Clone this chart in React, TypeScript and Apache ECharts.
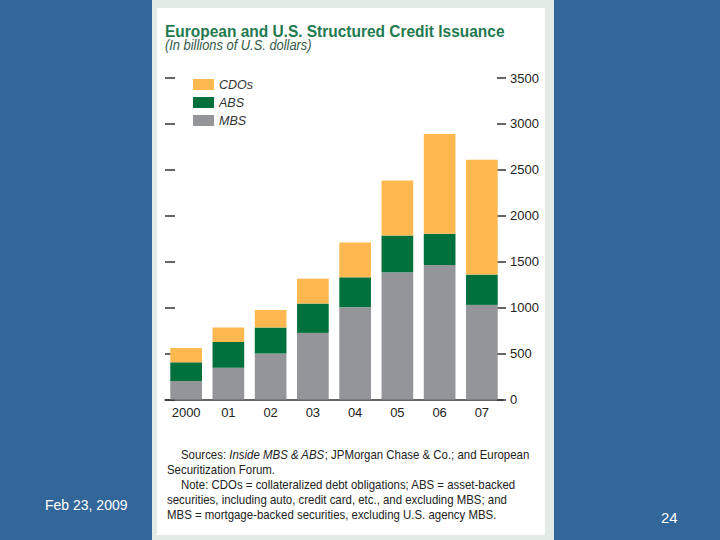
import React, { useEffect, useRef } from "react";
import * as echarts from "echarts";

const years = ["2000", "01", "02", "03", "04", "05", "06", "07"];
const mbs = [200, 345, 500, 725, 1005, 1385, 1465, 1030];
const abs = [205, 280, 285, 320, 325, 400, 340, 330];
const cdos = [155, 160, 190, 270, 380, 600, 1085, 1250];
const legendNames = ["CDOs", "ABS", "MBS"];

const titleText = "European and U.S. Structured Credit Issuance";
const subtitleText = "(In billions of U.S. dollars)";
const noteLines = [
  "{n|Sources: }{i|Inside MBS & ABS}{n|; JPMorgan Chase & Co.; and European}",
  "{n|Securitization Forum.}",
  "{n|Note: CDOs = collateralized debt obligations; ABS = asset-backed}",
  "{n|securities, including auto, credit card, etc., and excluding MBS; and}",
  "{n|MBS = mortgage-backed securities, excluding U.S. agency MBS.}",
];
const footerDate = "Feb 23, 2009";
const pageNo = "24";

const FONT = "'Liberation Sans', Arial, Helvetica, sans-serif";
const COLORS = { CDOs: "#fdb94f", ABS: "#00703c", MBS: "#939598" };

export default function App() {
  const ref = useRef<HTMLDivElement>(null);
  useEffect(() => {
    document.body.style.margin = "0";
    const chart = echarts.init(ref.current!, null, { renderer: "svg" });
    const noteIndent = [181, 167, 181, 167, 167];
    const noteY = [455, 470, 485, 500, 515];
    chart.setOption({
      animation: false,
      backgroundColor: "#336699",
      graphic: [
        { type: "rect", z: -10, shape: { x: 152, y: 0, width: 402, height: 540 }, style: { fill: "#e3ebe6" }, silent: true },
        { type: "rect", z: -9, shape: { x: 157, y: 8, width: 388, height: 527 }, style: { fill: "#ffffff" }, silent: true },
        {
          type: "text", x: 165, y: 31, scaleX: 0.91,
          style: { text: titleText, font: `bold 17px ${FONT}`, fill: "#1f7a4f", align: "left", verticalAlign: "middle" },
        },
        {
          type: "text", x: 165, y: 45, scaleX: 0.92,
          style: { text: subtitleText, font: `italic 14px ${FONT}`, fill: "#35594a", align: "left", verticalAlign: "middle" },
        },
        ...noteLines.map((t, i) => ({
          type: "text", x: noteIndent[i], y: noteY[i], scaleX: 0.88,
          style: {
            text: t, align: "left", verticalAlign: "middle",
            rich: {
              n: { fontSize: 13, fontFamily: FONT, fill: "#222" },
              i: { fontSize: 13, fontFamily: FONT, fontStyle: "italic", fill: "#222" },
            },
          },
        })),
        {
          type: "text", x: 45, y: 505,
          style: { text: footerDate, font: `14px ${FONT}`, fill: "#ffffff", align: "left", verticalAlign: "middle" },
        },
        {
          type: "text", x: 661, y: 517,
          style: { text: pageNo, font: `15px ${FONT}`, fill: "#ffffff", align: "left", verticalAlign: "middle" },
        },
      ],
      legend: {
        data: legendNames,
        orient: "vertical",
        left: 193,
        top: 78,
        itemWidth: 21,
        itemHeight: 11,
        itemGap: 5,
        icon: "rect",
        padding: 0,
        textStyle: { fontStyle: "italic", fontSize: 12.5, fontFamily: FONT, color: "#333", lineHeight: 12 },
      },
      grid: { left: 165, right: 217, top: 78, bottom: 140.5, containLabel: false },
      xAxis: {
        type: "category",
        data: years,
        axisLine: { lineStyle: { color: "#333", width: 1.5 } },
        axisTick: { inside: true, length: 5, lineStyle: { color: "#333", width: 1.5 } },
        axisLabel: { color: "#222", fontSize: 13, fontFamily: FONT, margin: 6 },
      },
      yAxis: [
        {
          type: "value", position: "right", min: 0, max: 3500, interval: 500, offset: -6,
          axisLine: { show: false },
          axisTick: { show: true, inside: false, length: 9, lineStyle: { color: "#333", width: 1.5 } },
          axisLabel: {
            color: "#222", fontSize: 13, fontFamily: FONT, margin: 13, align: "left",
            formatter: (v: number) => String(v),
          },
          splitLine: { show: false },
        },
        {
          type: "value", position: "left", min: 0, max: 3500, interval: 500,
          axisLine: { show: false },
          axisTick: { show: true, inside: true, length: 10, lineStyle: { color: "#333", width: 1.5 } },
          axisLabel: { show: false },
          splitLine: { show: false },
        },
      ],
      series: [
        { name: "MBS", type: "bar", stack: "total", data: mbs, barCategoryGap: "25%", itemStyle: { color: COLORS.MBS } },
        { name: "ABS", type: "bar", stack: "total", data: abs, itemStyle: { color: COLORS.ABS } },
        { name: "CDOs", type: "bar", stack: "total", data: cdos, itemStyle: { color: COLORS.CDOs } },
      ],
    });
    return () => chart.dispose();
  }, []);
  return <div ref={ref} style={{ position: "fixed", left: 0, top: 0, width: 720, height: 540 }} />;
}
